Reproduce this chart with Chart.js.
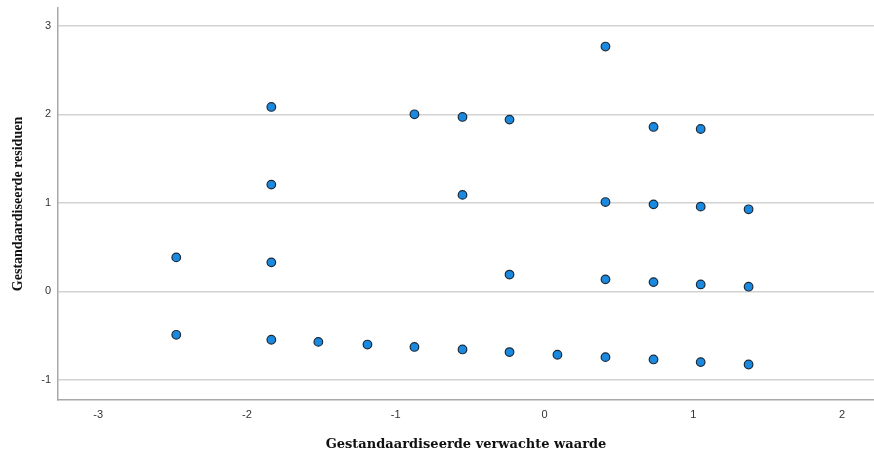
<!DOCTYPE html>
<html>
<head>
<meta charset="utf-8">
<script src="https://cdn.jsdelivr.net/npm/chart.js@4"></script>
<style>
html,body{margin:0;padding:0;background:#fff;}
#wrap{width:874px;height:452px;position:relative;}
</style>
</head>
<body>
<div id="wrap"><canvas id="c" width="874" height="452"></canvas></div>
<script>
const predicted = [-2.475,-2.475,-1.836,-1.836,-1.836,-1.836,-1.52,-1.19,-0.874,-0.874,-0.551,-0.551,-0.551,-0.235,-0.235,-0.235,0.087,0.41,0.41,0.41,0.41,0.733,0.733,0.733,0.733,1.05,1.05,1.05,1.05,1.372,1.372,1.372];
const residuals = [0.384,-0.49,2.083,1.206,0.328,-0.546,-0.57,-0.6,2.0,-0.627,1.97,1.09,-0.655,1.94,0.19,-0.685,-0.715,2.765,1.009,0.136,-0.742,1.857,0.983,0.105,-0.768,1.834,0.957,0.079,-0.798,0.927,0.053,-0.825];
const xTicks = [-3,-2,-1,0,1,2];
const yTicks = [-1,0,1,2,3];
const xTitle = 'Gestandaardiseerde verwachte waarde';
const yTitle = 'Gestandaardiseerde residuen';

const points = predicted.map((x,i)=>({x:x,y:residuals[i]}));

new Chart(document.getElementById('c'),{
  type:'scatter',
  data:{datasets:[{data:points,backgroundColor:'#1a8ae0',borderColor:'#1c2b3a',borderWidth:1.2,pointRadius:4.3,pointHoverRadius:4.3}]},
  options:{
    responsive:false,animation:false,
    layout:{autoPadding:false,padding:{top:8,right:0,left:0,bottom:0}},
    plugins:{legend:{display:false},tooltip:{enabled:false}},
    scales:{
      x:{
        type:'linear',min:-3.27,max:2.215,
        afterBuildTicks:(s)=>{s.ticks=xTicks.map(v=>({value:v}));},
        afterFit:(s)=>{s.height=52;s.paddingLeft=0;s.paddingRight=0;},
        grid:{display:false,drawTicks:false},
        border:{display:true,color:'#a8a8a8',width:1.5},
        ticks:{color:'#333',font:{family:'Liberation Sans, Arial',size:11},padding:8,maxRotation:0,callback:(v)=>String(v)},
        title:{display:true,text:xTitle,color:'#111',font:{family:'DejaVu Serif',weight:'bold',size:13},padding:{top:8,bottom:0}}
      },
      y:{
        type:'linear',min:-1.226,max:3.2,
        afterBuildTicks:(s)=>{s.ticks=yTicks.map(v=>({value:v}));},
        afterFit:(s)=>{s.width=58;s.paddingTop=0;s.paddingBottom=0;},
        grid:{display:true,color:'#d2d2d2',lineWidth:1.5,drawTicks:false},
        border:{display:true,color:'#a8a8a8',width:1.5},
        ticks:{color:'#333',font:{family:'Liberation Sans, Arial',size:11},padding:7,callback:(v)=>String(v)},
        title:{display:true,text:yTitle,color:'#111',font:{family:'Liberation Serif',weight:'bold',size:14},padding:{top:10,bottom:0}}
      }
    }
  }
});
</script>
</body>
</html>
